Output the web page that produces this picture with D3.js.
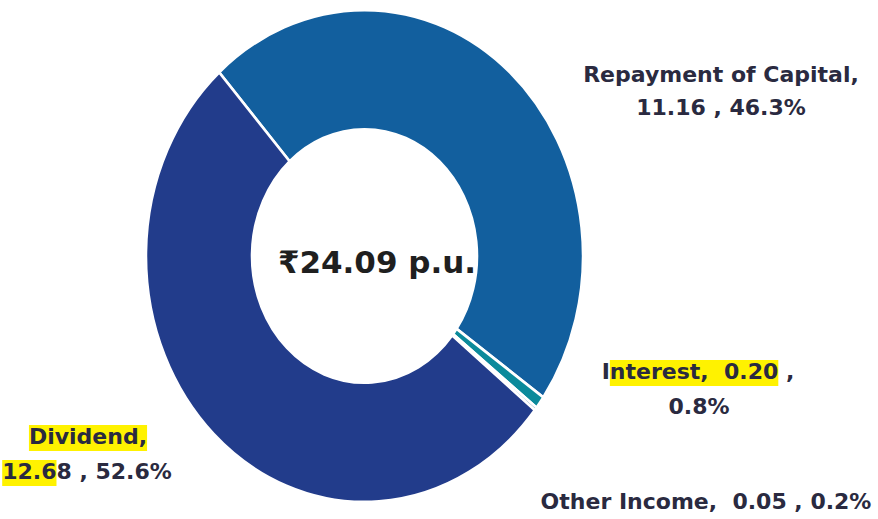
<!DOCTYPE html>
<html>
<head>
<meta charset="utf-8">
<script src="https://cdn.jsdelivr.net/npm/d3@7"></script>
<style>
body{margin:0;background:#fff;}
text{font-family:"DejaVu Sans","Noto Sans",sans-serif;font-weight:bold;white-space:pre;}
</style>
</head>
<body>
<svg id="chart" width="878" height="519"></svg>
<script>
// data
var labels = ['Repayment of Capital', 'Interest', 'Other Income', 'Dividend']
var values = [11.16, 0.20, 0.05, 12.68]
var pcts = ['46.3%', '0.8%', '0.2%', '52.6%']
var colors = ['#125f9e', '#0b8a9b', '#1a6f9a', '#223c8b']
var total = '₹24.09 p.u.'

var W = 878, H = 519
var cx = 364.5, cy = 256, R = 218.5, yScale = 246/218.5
var svg = d3.select('#chart')

var pie = d3.pie().sort(null).value(function(d){ return d })
  .startAngle(-41.7*Math.PI/180).endAngle((360-41.7)*Math.PI/180)
var arc = d3.arc().innerRadius(R*0.515).outerRadius(R)

var g = svg.append('g').attr('transform', 'translate('+cx+','+cy+') scale(1,'+yScale+')')
g.selectAll('path').data(pie(values)).enter().append('path')
  .attr('d', arc)
  .attr('fill', function(d, i){ return colors[i] })
  .attr('stroke', '#fff')
  .attr('stroke-width', 2.5)

svg.append('text').attr('x', 377).attr('y', 273)
  .attr('text-anchor', 'middle').attr('font-size', 31).attr('fill', '#1f1f1f')
  .text(total)

// label lines: text, x, y, highlight char range [a,b) or null
var lab = [
  {t: labels[0]+',', x: 721, y: 82, hl: null},
  {t: values[0].toFixed(2)+' , '+pcts[0], x: 721, y: 115, hl: null},
  {t: labels[1]+',  '+values[1].toFixed(2)+' ,', x: 698, y: 379, hl: [1, 15]},
  {t: pcts[1], x: 699, y: 414, hl: null},
  {t: labels[3]+',', x: 88, y: 444, hl: [0, 9]},
  {t: values[3].toFixed(2)+' , '+pcts[3], x: 87, y: 479, hl: [0, 4]},
  {t: labels[2]+',  '+values[2].toFixed(2)+' , '+pcts[2], x: 706, y: 509, hl: null}
]
var hlG = svg.append('g')
lab.forEach(function(l){
  var t = svg.append('text').attr('x', l.x).attr('y', l.y)
    .attr('text-anchor', 'middle').attr('font-size', 22).attr('fill', '#2a2a40')
    .text(l.t)
  if (l.hl) {
    var node = t.node()
    var x0 = node.getStartPositionOfChar(l.hl[0]).x
    var x1 = node.getEndPositionOfChar(l.hl[1]-1).x
    hlG.append('rect').attr('x', x0).attr('y', l.y-19).attr('width', x1-x0).attr('height', 26)
      .attr('fill', '#fff200')
  }
})
</script>
</body>
</html>
